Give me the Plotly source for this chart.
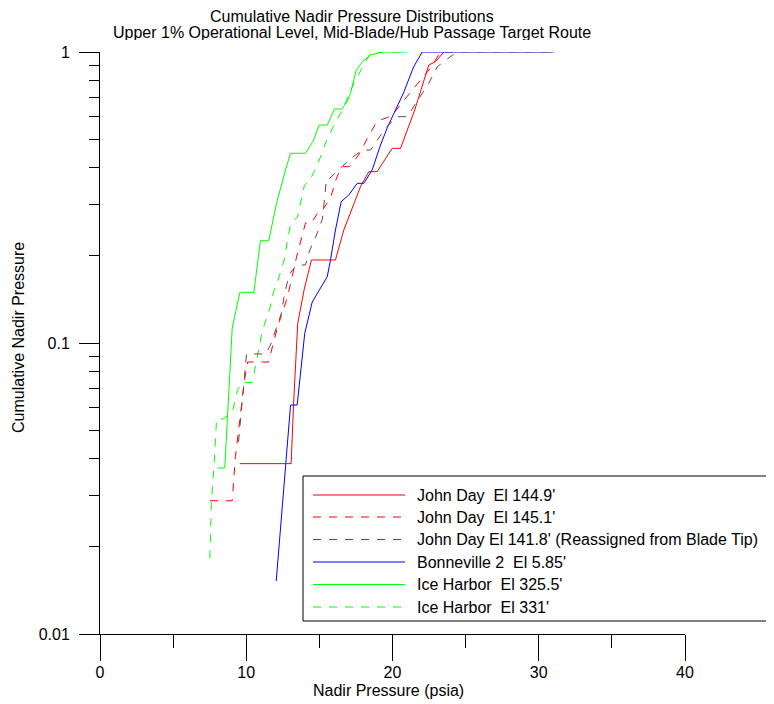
import plotly.graph_objects as go

# ---------------- data ----------------
jd1449_x = [9.56, 13.07, 13.25, 13.52, 13.98, 14.46, 16.10, 16.67, 17.81, 18.38, 18.95, 19.98, 20.55, 21.52, 21.91, 22.48, 22.94, 23.51]
jd1449_y = [0.0385, 0.0385, 0.0637, 0.1168, 0.1545, 0.1929, 0.1929, 0.2445, 0.3444, 0.3879, 0.3879, 0.4667, 0.4667, 0.632, 0.7306, 0.902, 0.926, 1.0]

jd1451_x = [7.51, 9.04, 9.26, 9.56, 9.88, 10.09, 11.52, 12.14, 12.82, 13.44, 13.71, 14.05, 14.46, 15.0, 15.21, 15.76, 16.17, 16.56, 17.06, 17.68, 18.29, 18.91, 19.18, 19.93, 20.75, 21.78, 22.6, 23.28, 24.3]
jd1451_y = [0.0287, 0.0287, 0.0407, 0.0546, 0.0746, 0.086, 0.086, 0.1135, 0.144, 0.1975, 0.224, 0.2584, 0.2584, 0.2864, 0.2864, 0.315, 0.369, 0.4035, 0.4035, 0.4426, 0.506, 0.574, 0.584, 0.6026, 0.679, 0.789, 0.881, 1.0, 1.0]

jd1418_x = [9.47, 9.74, 10.02, 11.32, 11.66, 12.41, 12.62, 12.96, 13.44, 14.05, 14.32, 14.80, 15.21, 15.49, 15.71, 16.44, 17.2, 17.93, 18.5, 19.52, 20.32, 21.0, 21.57, 22.48, 23.06, 24.08, 24.38, 31.0]
jd1418_y = [0.0457, 0.0642, 0.0917, 0.0917, 0.0985, 0.1268, 0.1485, 0.1726, 0.1854, 0.1854, 0.2071, 0.235, 0.2668, 0.368, 0.368, 0.3994, 0.432, 0.4604, 0.4604, 0.548, 0.5994, 0.5994, 0.666, 0.7806, 0.890, 0.977, 1.0, 1.0]

bon2_x = [12.05, 13.03, 13.48, 14.0, 14.51, 15.54, 15.76, 16.10, 16.49, 17.01, 17.59, 18.04, 18.61, 19.18, 19.66, 20.14, 20.75, 21.44, 22.03, 31.0]
bon2_y = [0.0152, 0.0612, 0.0612, 0.108, 0.1383, 0.169, 0.1929, 0.2445, 0.306, 0.3225, 0.3538, 0.3538, 0.393, 0.479, 0.552, 0.622, 0.723, 0.888, 1.0, 1.0]

ih3255_x = [8.03, 8.53, 9.04, 9.56, 10.52, 10.97, 11.54, 12.07, 12.68, 13.03, 14.05, 14.55, 14.99, 15.54, 16.03, 16.53, 16.9, 17.13, 17.52, 18.0, 18.5, 19.3, 21.0]
ih3255_y = [0.0372, 0.0372, 0.1123, 0.1493, 0.1493, 0.2246, 0.2246, 0.302, 0.393, 0.4487, 0.4487, 0.4917, 0.561, 0.561, 0.637, 0.637, 0.675, 0.721, 0.867, 0.933, 0.976, 1.0, 1.0]

ih331_x = [7.51, 7.62, 7.78, 7.97, 8.40, 9.04, 9.40, 9.81, 10.41, 10.84, 11.11, 11.59, 11.86, 12.27, 12.65, 12.82, 13.03, 13.50, 13.71, 13.98, 14.28, 14.87, 15.42, 16.10, 16.65, 16.99, 17.47, 17.95, 18.5, 19.18, 21.0]
ih331_y = [0.0182, 0.0289, 0.0366, 0.0548, 0.0548, 0.0575, 0.069, 0.0731, 0.0731, 0.0946, 0.1108, 0.1299, 0.1497, 0.17, 0.1975, 0.226, 0.2564, 0.271, 0.303, 0.349, 0.358, 0.409, 0.4866, 0.5744, 0.642, 0.7116, 0.801, 0.881, 0.992, 1.0, 1.0]

series_names = ["John Day\u00a0 El 144.9'", "John Day\u00a0 El 145.1'",
                "John Day El 141.8' (Reassigned from Blade Tip)", "Bonneville 2\u00a0 El 5.85'",
                "Ice Harbor\u00a0 El 325.5'", "Ice Harbor\u00a0 El 331'"]

x_ticks = [0, 10, 20, 30, 40]
x_minor = [5, 15, 25, 35]
y_ticks = [0.01, 0.1, 1]
y_ticklabels = ["0.01", "0.1", "1"]
y_minor = [0.02, 0.03, 0.04, 0.05, 0.06, 0.07, 0.08, 0.09, 0.2, 0.3, 0.4, 0.5, 0.6, 0.7, 0.8, 0.9]

title1 = "Cumulative Nadir Pressure Distributions"
title2 = "Upper 1% Operational Level, Mid-Blade/Hub Passage Target Route"
xtitle = "Nadir Pressure (psia)"
ytitle = "Cumulative Nadir Pressure"

# ---------------- styles ----------------
FONT = "Liberation Sans, Arial, sans-serif"
RED, BROWN, BLUE, GREEN = "#FF0000", "#804040", "#0000FF", "#00FF00"
DASH = "8px,8px"
styles = [(RED, "solid"), (RED, DASH), (BROWN, DASH), (BLUE, "solid"), (GREEN, "solid"), (GREEN, DASH)]
data = [(jd1449_x, jd1449_y), (jd1451_x, jd1451_y), (jd1418_x, jd1418_y),
        (bon2_x, bon2_y), (ih3255_x, ih3255_y), (ih331_x, ih331_y)]

OFF = 8  # default page body margin
W, H = 774 - OFF, 704 - OFF
L, T = 100 - OFF, 52 - OFF
PW, PH = 585, 582
R, B = W - L - PW, H - T - PH

def pxx(p):
    # page pixel x -> paper fraction
    return (p - OFF - L) / PW

def pxy(p):
    # page pixel y -> paper fraction
    return (T + PH - (p - OFF)) / PH

fig = go.Figure()
draw_order = [0, 1, 4, 5, 3, 2]
for i in draw_order:
    c, d = styles[i]
    fig.add_trace(go.Scatter(x=data[i][0], y=data[i][1], mode="lines", name=series_names[i],
                             line=dict(color=c, width=1, dash=d), showlegend=False,
                             hoverinfo="skip"))

shapes = []
annotations = []
# legend box
shapes.append(dict(type="rect", xref="paper", yref="paper", x0=pxx(303), x1=pxx(772),
                   y0=pxy(621), y1=pxy(476), line=dict(color="black", width=1),
                   fillcolor="white", layer="above"))
row_y = [495, 517, 539.5, 562, 584.5, 607]
for i, ry in enumerate(row_y):
    c, d = styles[i]
    shapes.append(dict(type="line", xref="paper", yref="paper", x0=pxx(313), x1=pxx(405),
                       y0=pxy(ry), y1=pxy(ry), line=dict(color=c, width=1, dash=d), layer="above"))
    annotations.append(dict(text=series_names[i], xref="paper", yref="paper", x=pxx(415), y=pxy(ry),
                            xanchor="left", yanchor="middle", showarrow=False,
                            font=dict(family=FONT, size=16, color="black")))

for txt, yy in [(title1, 15.5), (title2, 32.5)]:
    annotations.append(dict(text=txt, xref="paper", yref="paper", x=pxx(352), y=pxy(yy),
                            xanchor="center", yanchor="middle", showarrow=False,
                            height=16, borderpad=0,
                            font=dict(family=FONT, size=16, color="black")))
annotations.append(dict(text=xtitle, xref="paper", yref="paper", x=pxx(388), y=pxy(690),
                        xanchor="center", yanchor="middle", showarrow=False,
                        font=dict(family=FONT, size=16, color="black")))
annotations.append(dict(text=ytitle, xref="paper", yref="paper", x=pxx(18), y=pxy(338),
                        xanchor="center", yanchor="middle", showarrow=False, textangle=-90,
                        font=dict(family=FONT, size=16, color="black")))

fig.update_layout(
    width=W, height=H,
    margin=dict(l=L, r=R, t=T, b=B, pad=0),
    paper_bgcolor="white", plot_bgcolor="white",
    font=dict(family=FONT, size=16, color="black"),
    shapes=shapes, annotations=annotations,
    xaxis=dict(range=[0, 40], tickmode="array", tickvals=x_ticks, ticks="outside", ticklen=26,
               tickcolor="black", tickwidth=1, showline=True, linecolor="black", linewidth=1,
               showgrid=False, zeroline=False, ticklabelstandoff=-2,
               minor=dict(tickvals=x_minor, ticks="outside", ticklen=13, tickcolor="black",
                          tickwidth=1, showgrid=False)),
    yaxis=dict(type="log", range=[-2, 0], tickmode="array", tickvals=y_ticks, ticktext=y_ticklabels,
               ticks="outside", ticklen=20, tickcolor="black", tickwidth=1, showline=True,
               linecolor="black", linewidth=1, showgrid=False, zeroline=False, ticklabelstandoff=6,
               minor=dict(tickvals=y_minor, ticks="outside", ticklen=10, tickcolor="black",
                          tickwidth=1, showgrid=False)),
)

fig.write_html("out.html")
